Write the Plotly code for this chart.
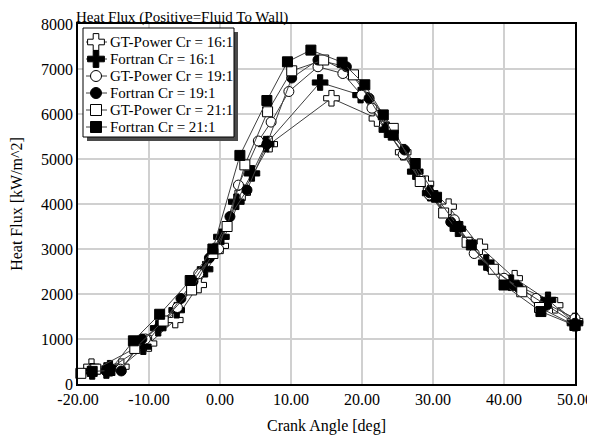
import plotly.graph_objects as go

# ---- data ----
gt16_x = [-18.1, -13.9, -10.0, -6.3, -3.0, 0.1, 3.2, 7.0, 15.7, 22.1, 25.8, 29.0, 32.2, 36.6, 41.5, 47.2, 50.0]
gt16_y = [384, 384, 900, 1422, 2200, 3070, 4250, 5330, 6350, 5900, 5150, 4450, 3940, 3050, 2350, 1750, 1400]

ft16_x = [-18.0, -16.0, -15.5, -10.8, -8.7, -6.1, -2.1, 0.2, 2.3, 4.5, 6.5, 14.1, 19.8, 23.5, 27.5, 29.6, 33.5, 37.5, 41.0, 46.2, 50.0]
ft16_y = [280, 300, 350, 830, 1240, 1640, 2550, 3270, 4050, 4680, 5330, 6700, 6420, 5650, 4720, 4240, 3450, 2700, 2250, 1870, 1350]

gt19_x = [-18.0, -14.0, -10.5, -6.0, -3.0, -0.2, 2.6, 5.4, 7.2, 9.7, 13.8, 17.3, 19.95, 21.4, 25.8, 29.5, 33.0, 35.8, 40.0, 44.5, 50.0]
gt19_y = [330, 330, 1000, 1700, 2450, 3000, 4420, 5400, 5820, 6500, 7050, 6900, 6420, 6130, 5100, 4200, 3650, 2900, 2350, 1900, 1460]

ft19_x = [-18.0, -16.0, -13.9, -11.0, -8.5, -5.5, -3.8, -1.5, 1.4, 3.8, 6.6, 10.1, 13.8, 17.8, 21.0, 23.5, 26.0, 29.5, 32.5, 35.0, 38.0, 42.0, 46.0, 50.0]
ft19_y = [260, 280, 290, 1000, 1280, 1900, 2280, 2800, 3720, 4310, 5330, 6800, 7200, 7050, 6350, 5700, 5200, 4250, 3600, 3150, 2600, 2150, 1750, 1350]

gt21_x = [-19.6, -17.5, -12.0, -8.0, -4.0, -1.0, 1.0, 3.5, 6.7, 10.1, 14.6, 18.8, 24.4, 28.2, 31.5, 34.8, 38.5, 42.5, 45.0, 50.0]
gt21_y = [237, 330, 790, 1400, 2090, 2900, 3500, 4870, 6050, 6960, 7200, 6870, 5680, 4500, 3800, 3150, 2550, 2050, 1700, 1300]

ft21_x = [-18.0, -15.5, -12.2, -8.5, -4.2, -1.0, 2.8, 6.6, 9.5, 12.8, 17.2, 20.4, 23.0, 24.4, 27.5, 30.5, 33.5, 35.4, 40.0, 45.2, 50.0]
ft21_y = [280, 300, 960, 1550, 2300, 3000, 5080, 6300, 7160, 7420, 7150, 6650, 5980, 5530, 4900, 4150, 3500, 3090, 2200, 1610, 1300]

series_names = ["GT-Power Cr = 16:1", "Fortran Cr = 16:1", "GT-Power Cr = 19:1",
                "Fortran Cr = 19:1", "GT-Power Cr = 21:1", "Fortran Cr = 21:1"]
series_x = [gt16_x, ft16_x, gt19_x, ft19_x, gt21_x, ft21_x]
series_y = [gt16_y, ft16_y, gt19_y, ft19_y, gt21_y, ft21_y]
symbols = ["cross", "cross", "circle", "circle", "square", "square"]
fills = ["white", "black", "white", "black", "white", "black"]
sizes = [13, 13, 10, 10, 10, 10]

x_ticks = [-20, -10, 0, 10, 20, 30, 40, 50]
y_ticks = [0, 1000, 2000, 3000, 4000, 5000, 6000, 7000, 8000]

FONT = "Liberation Serif, Times New Roman, serif"
LINE_COLOR = "#404040"

fig = go.Figure()
for name, xs, ys, sym, fc, sz in zip(series_names, series_x, series_y, symbols, fills, sizes):
    fig.add_trace(go.Scatter(
        x=xs, y=ys, name=name, mode="lines+markers", cliponaxis=False, showlegend=False,
        line=dict(color=LINE_COLOR, width=1),
        marker=dict(symbol=sym, size=sz, color=fc, line=dict(color="black", width=1)),
    ))

# the page body has an 8px offset; size the figure so the plot sits at page px 78..575 x 24..384
OFF = 8
PX_L, PX_R, PX_T, PX_B = 78, 575, 24, 384
L, T = PX_L - OFF, PX_T - OFF
W, H = 595 - OFF, 435 - OFF
R, B = W - (PX_R - OFF), H - (PX_B - OFF)

# ---- legend box drawn on an overlay axis measured in page pixels ----
LG_X0, LG_X1, LG_Y0, LG_Y1 = 83, 234, 28, 137
SHADOW = 4
ROW0, ROW_STEP = 42, 17
SYM_X, SEG_X0, SEG_X1, TXT_X = 96, 86, 107, 108

fig.add_trace(go.Scatter(
    x=[LG_X0 + SHADOW, LG_X1 + SHADOW, LG_X1 + SHADOW, LG_X0 + SHADOW, LG_X0 + SHADOW],
    y=[LG_Y0 + SHADOW, LG_Y0 + SHADOW, LG_Y1 + SHADOW, LG_Y1 + SHADOW, LG_Y0 + SHADOW],
    xaxis="x2", yaxis="y2", mode="lines", fill="toself", fillcolor="#4a4a4a",
    line=dict(width=0), showlegend=False, hoverinfo="skip"))
fig.add_trace(go.Scatter(
    x=[LG_X0, LG_X1, LG_X1, LG_X0, LG_X0], y=[LG_Y0, LG_Y0, LG_Y1, LG_Y1, LG_Y0],
    xaxis="x2", yaxis="y2", mode="lines", fill="toself", fillcolor="white",
    line=dict(color="black", width=1), showlegend=False, hoverinfo="skip"))

for i, (name, sym, fc, sz) in enumerate(zip(series_names, symbols, fills, sizes)):
    ry = ROW0 + ROW_STEP * i
    fig.add_trace(go.Scatter(
        x=[SEG_X0, SEG_X1], y=[ry, ry], xaxis="x2", yaxis="y2",
        mode="lines", showlegend=False, hoverinfo="skip",
        line=dict(color=LINE_COLOR, width=1)))
    fig.add_trace(go.Scatter(
        x=[SYM_X], y=[ry], xaxis="x2", yaxis="y2",
        mode="markers", showlegend=False, hoverinfo="skip",
        marker=dict(symbol=sym, size=sz + 1, color=fc, opacity=1,
                    line=dict(color="black", width=1))))
    fig.add_annotation(text=name, x=TXT_X, y=ry, xref="x2", yref="y2",
                       xanchor="left", yanchor="middle", showarrow=False,
                       font=dict(family=FONT, size=15, color="black"))

fig.add_annotation(text="Heat Flux (Positive=Fluid To Wall)", xref="paper", yref="paper",
                   x=0, y=1, xanchor="left", yanchor="bottom", showarrow=False,
                   font=dict(family=FONT, size=15, color="black"), xshift=-3, yshift=-3,
                   borderpad=0)

fig.update_layout(
    width=W, height=H,
    margin=dict(l=L, r=R, t=T, b=B, autoexpand=False),
    paper_bgcolor="white", plot_bgcolor="white",
    font=dict(family=FONT, size=16, color="black"),
    showlegend=False,
    xaxis2=dict(overlaying="x", range=[PX_L, PX_R], visible=False, fixedrange=True),
    yaxis2=dict(overlaying="y", range=[PX_B, PX_T], visible=False, fixedrange=True),
)
fig.layout.xaxis.update(range=[-20, 50], tickvals=x_ticks, ticktext=[f"{v:.2f}" for v in x_ticks],
                        showgrid=True, gridcolor="#d0d0d0", gridwidth=1.5,
                        showline=True, linecolor="black", linewidth=1.5, mirror=True,
                        ticks="", zeroline=False, automargin=False,
                        title=dict(text="Crank Angle [deg]", font=dict(family=FONT, size=16), standoff=15))
fig.layout.yaxis.update(range=[0, 8000], tickvals=y_ticks,
                        showgrid=True, gridcolor="#d0d0d0", gridwidth=1.5,
                        showline=True, linecolor="black", linewidth=1.5, mirror=True,
                        ticks="", zeroline=False, automargin=False,
                        title=dict(text="Heat Flux [kW/m^2]", font=dict(family=FONT, size=16), standoff=23))

fig.write_html("out.html")
